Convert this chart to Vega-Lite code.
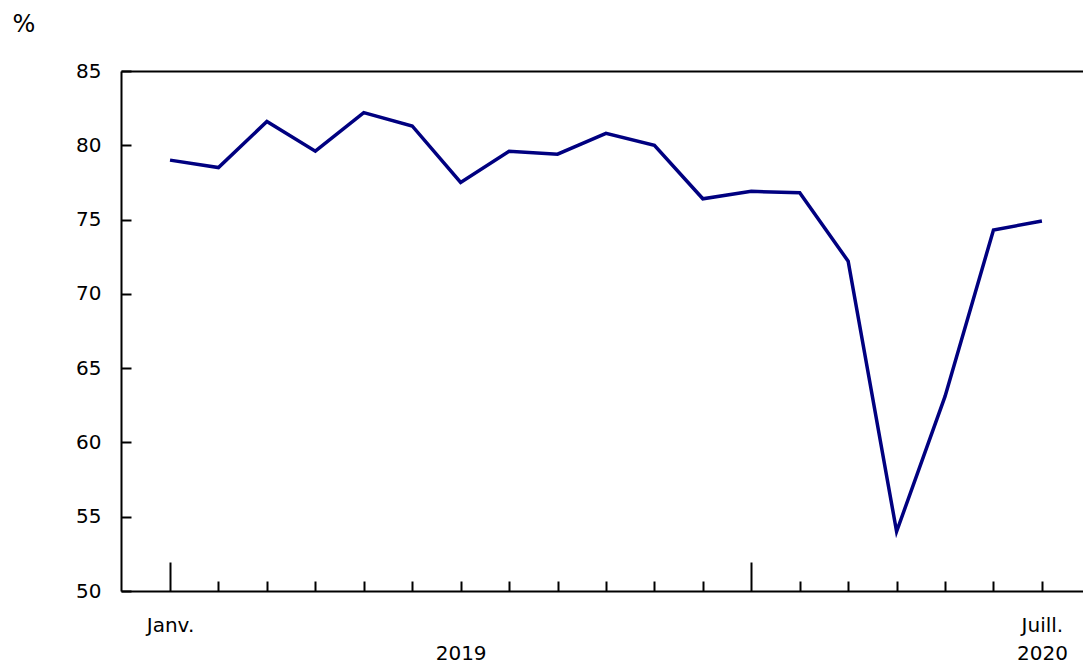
{
  "$schema": "https://vega.github.io/schema/vega-lite/v6.json",
  "autosize": "none",
  "width": 962,
  "height": 520,
  "padding": {"left": 121, "top": 71, "right": 0, "bottom": 74},
  "background": "white",
  "config": {"view": {"stroke": null}, "font": "DejaVu Sans"},
  "data": {"values": [
    {"month": "2019-01", "value": 79.0},
    {"month": "2019-02", "value": 78.5},
    {"month": "2019-03", "value": 81.6},
    {"month": "2019-04", "value": 79.6},
    {"month": "2019-05", "value": 82.2},
    {"month": "2019-06", "value": 81.3},
    {"month": "2019-07", "value": 77.5},
    {"month": "2019-08", "value": 79.6},
    {"month": "2019-09", "value": 79.4},
    {"month": "2019-10", "value": 80.8},
    {"month": "2019-11", "value": 80.0},
    {"month": "2019-12", "value": 76.4},
    {"month": "2020-01", "value": 76.9},
    {"month": "2020-02", "value": 76.8},
    {"month": "2020-03", "value": 72.2},
    {"month": "2020-04", "value": 54.0},
    {"month": "2020-05", "value": 63.1},
    {"month": "2020-06", "value": 74.3},
    {"month": "2020-07", "value": 74.9}
  ]},
  "mark": {"type": "line", "color": "#000080", "strokeWidth": 3.5},
  "encoding": {
    "x": {
      "field": "month", "type": "ordinal", "sort": null,
      "scale": {"type": "point", "padding": 0.93, "align": 0.544},
      "axis": {
        "title": null,
        "labelAngle": 0,
        "labelFont": "DejaVu Sans",
        "labelFontSize": 20,
        "labelColor": "black",
        "labelBaseline": "top",
        "labelLineHeight": 28,
        "labelPadding": {"condition": {"test": "datum.value == '2019-01' || datum.value == '2020-01'", "value": 53}, "value": 34},
        "labelExpr": "datum.value == '2019-01' ? 'Janv.' : datum.value == '2019-07' ? ['', '2019'] : datum.value == '2020-07' ? ['Juill.', '2020'] : ''",
        "domainColor": "black",
        "domainWidth": 2,
        "tickColor": "black",
        "tickWidth": 2,
        "tickSize": {"condition": {"test": "datum.value == '2019-01' || datum.value == '2020-01'", "value": -29}, "value": -10},
        "labelOverlap": false
      }
    },
    "y": {
      "field": "value", "type": "quantitative",
      "scale": {"domain": [50, 85], "nice": false, "zero": false},
      "axis": {
        "values": [50, 55, 60, 65, 70, 75, 80, 85],
        "title": "%",
        "titleAngle": 0,
        "titleX": -109,
        "titleY": -59,
        "titleAlign": "left",
        "titleBaseline": "top",
        "titleFont": "DejaVu Sans",
        "titleFontSize": 24,
        "titleFontWeight": "normal",
        "titleColor": "black",
        "labelFont": "DejaVu Sans",
        "labelFontSize": 20,
        "labelColor": "black",
        "labelPadding": 30,
        "domainColor": "black",
        "domainWidth": 2,
        "tickColor": "black",
        "tickWidth": 2,
        "tickSize": -10,
        "grid": true,
        "gridColor": "black",
        "gridWidth": 2,
        "gridOpacity": {"condition": {"test": "datum.value == 85", "value": 1}, "value": 0}
      }
    }
  }
}
